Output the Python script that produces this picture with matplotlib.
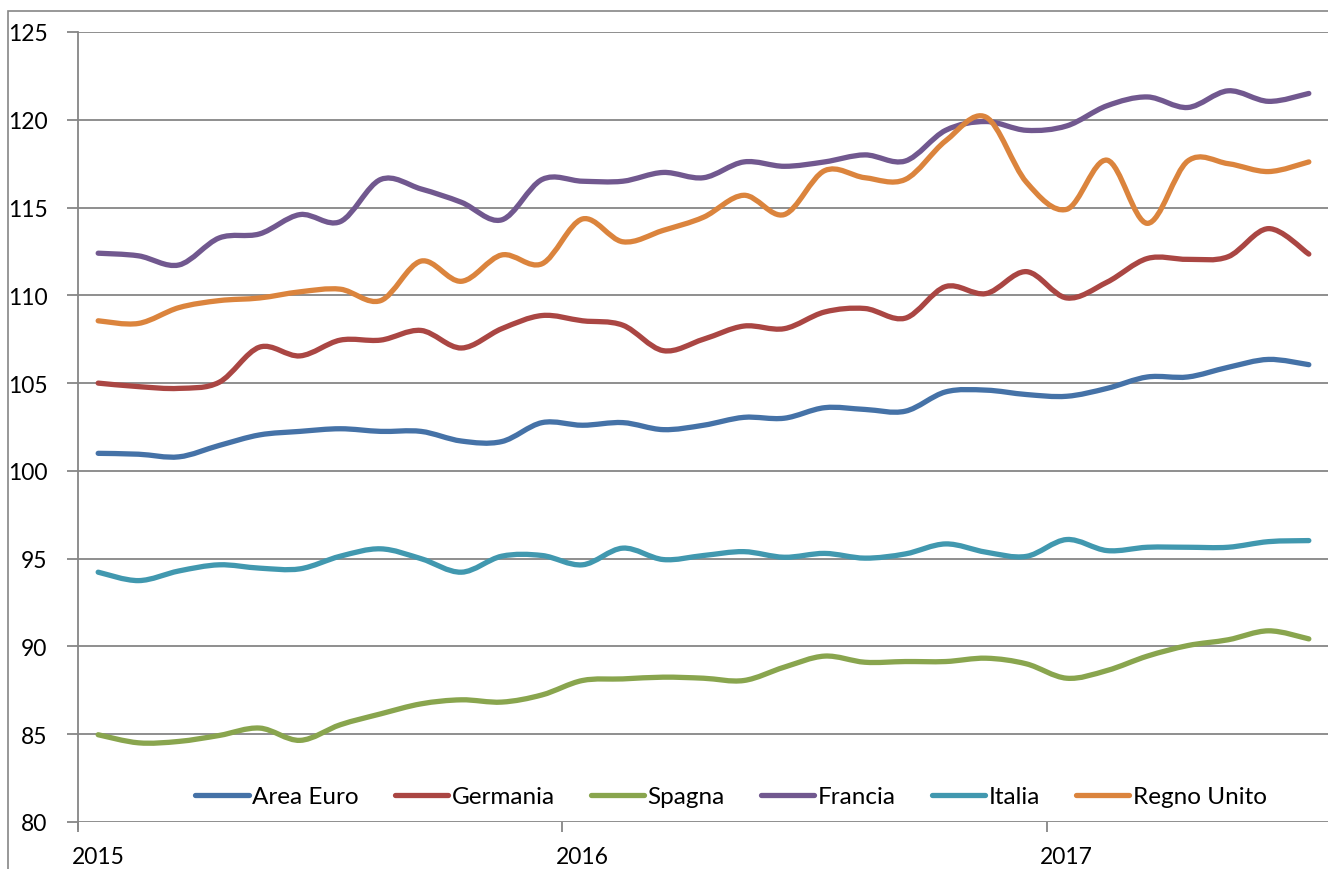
import matplotlib
matplotlib.use("Agg")
import matplotlib.pyplot as plt
from matplotlib.path import Path
from matplotlib.patches import PathPatch, Rectangle
from matplotlib.lines import Line2D

plt.rcParams['font.family'] = ['Lato', 'DejaVu Sans']

# mesi da gen 2015 a lug 2017
anni = ["2015", "2016", "2017"]
n_mesi = 31

area_euro = [101.0, 100.95, 100.8, 101.45, 102.05, 102.25, 102.4, 102.25, 102.25, 101.7,
             101.67, 102.75, 102.6, 102.75, 102.35, 102.6, 103.05, 103.0, 103.6, 103.5,
             103.4, 104.5, 104.6, 104.35, 104.25, 104.7, 105.35, 105.35, 105.9, 106.35, 106.05]
germania = [105.0, 104.8, 104.7, 105.05, 107.05, 106.55, 107.45, 107.45, 108.0, 107.0,
            108.1, 108.85, 108.55, 108.3, 106.85, 107.5, 108.25, 108.1, 109.05, 109.25,
            108.7, 110.5, 110.1, 111.35, 109.85, 110.75, 112.1, 112.05, 112.2, 113.8, 112.35]
spagna = [84.97, 84.51, 84.59, 84.93, 85.35, 84.65, 85.54, 86.16, 86.73, 86.96,
          86.83, 87.24, 88.06, 88.15, 88.25, 88.19, 88.06, 88.82, 89.45, 89.1,
          89.14, 89.14, 89.33, 89.01, 88.19, 88.63, 89.45, 90.05, 90.38, 90.89, 90.43]
francia = [112.4, 112.25, 111.73, 113.27, 113.5, 114.6, 114.2, 116.6, 116.06, 115.3,
           114.3, 116.6, 116.5, 116.5, 117.0, 116.7, 117.6, 117.35, 117.6, 118.0,
           117.65, 119.4, 119.9, 119.4, 119.65, 120.8, 121.3, 120.7, 121.65, 121.05, 121.5]
italia = [94.23, 93.75, 94.3, 94.65, 94.46, 94.42, 95.14, 95.56, 95.0, 94.23,
          95.14, 95.18, 94.65, 95.6, 94.95, 95.18, 95.4, 95.08, 95.3, 95.03,
          95.27, 95.84, 95.37, 95.13, 96.09, 95.46, 95.65, 95.65, 95.65, 95.97, 96.03]
regno_unito = [108.55, 108.4, 109.3, 109.7, 109.85, 110.2, 110.35, 109.7, 111.95, 110.8,
               112.3, 111.8, 114.35, 113.05, 113.7, 114.45, 115.7, 114.6, 117.1, 116.7,
               116.6, 118.8, 120.15, 116.45, 114.9, 117.7, 114.1, 117.65, 117.5, 117.05, 117.6]

serie = [("Area Euro", area_euro, "#4572A7"),
         ("Germania", germania, "#AA4643"),
         ("Spagna", spagna, "#89A54E"),
         ("Francia", francia, "#71588F"),
         ("Italia", italia, "#4198AF"),
         ("Regno Unito", regno_unito, "#DB843D")]


def curva_liscia(xs, ys):
    # linea smussata tipo Excel (Catmull-Rom -> Bezier)
    pts = list(zip(xs, ys))
    verts = [pts[0]]
    codes = [Path.MOVETO]
    n = len(pts)
    for i in range(n - 1):
        p0 = pts[i - 1] if i > 0 else pts[i]
        p1 = pts[i]
        p2 = pts[i + 1]
        p3 = pts[i + 2] if i + 2 < n else pts[i + 1]
        c1 = (p1[0] + (p2[0] - p0[0]) / 6, p1[1] + (p2[1] - p0[1]) / 6)
        c2 = (p2[0] - (p3[0] - p1[0]) / 6, p2[1] - (p3[1] - p1[1]) / 6)
        verts += [c1, c2, p2]
        codes += [Path.CURVE4] * 3
    return Path(verts, codes)


fig = plt.figure(figsize=(13.28, 8.70), dpi=100)
ax = fig.add_axes([78 / 1328, 1 - 823 / 870, 1251 / 1328, 790 / 870])

# bordo dell'area grafico
fig.patches.append(Rectangle((8 / 1328, -0.1), 1.2, 0.1 + 1 - 12 / 870,
                             transform=fig.transFigure, fill=False,
                             edgecolor="#868686", lw=1.2))

x = list(range(n_mesi))
handles = []
for nome, vals, col in serie:
    patch = PathPatch(curva_liscia(x, vals), facecolor="none", edgecolor=col,
                      lw=3.8, capstyle="round", joinstyle="round", zorder=3)
    ax.add_patch(patch)
    handles.append(Line2D([], [], color=col, lw=3.8, solid_capstyle="round"))

ax.set_xlim(-0.5, n_mesi - 0.5)
ax.set_ylim(80, 125)
ax.set_yticks(range(80, 126, 5))
ax.yaxis.grid(True, color="#868686", lw=1.3)
ax.set_axisbelow(True)

ax.set_xticks([-0.5, 11.5, 23.5])
ax.set_xticklabels([])
ax.set_xticks([0, 12, 24], minor=True)
ax.set_xticklabels(anni, minor=True)
ax.tick_params(axis="x", which="major", length=7, color="#868686", width=1.3)
ax.tick_params(axis="x", which="minor", length=0, pad=17, labelsize=16.5)
ax.tick_params(axis="y", length=8, color="#868686", width=1.3, pad=14, labelsize=16.5)

for s in ["top", "right", "bottom"]:
    ax.spines[s].set_visible(False)
ax.spines["left"].set_color("#868686")
ax.spines["left"].set_linewidth(1.3)
ax.spines["left"].set_bounds(80 - 7 * 45 / 790, 125)

ax.legend(handles, [s[0] for s in serie], loc="center", ncol=6, frameon=False,
          bbox_to_anchor=(0.522, 0.032), fontsize=17.5, handlelength=2.2,
          handletextpad=0.15, columnspacing=1.47)

fig.savefig("out.png", dpi=100)
